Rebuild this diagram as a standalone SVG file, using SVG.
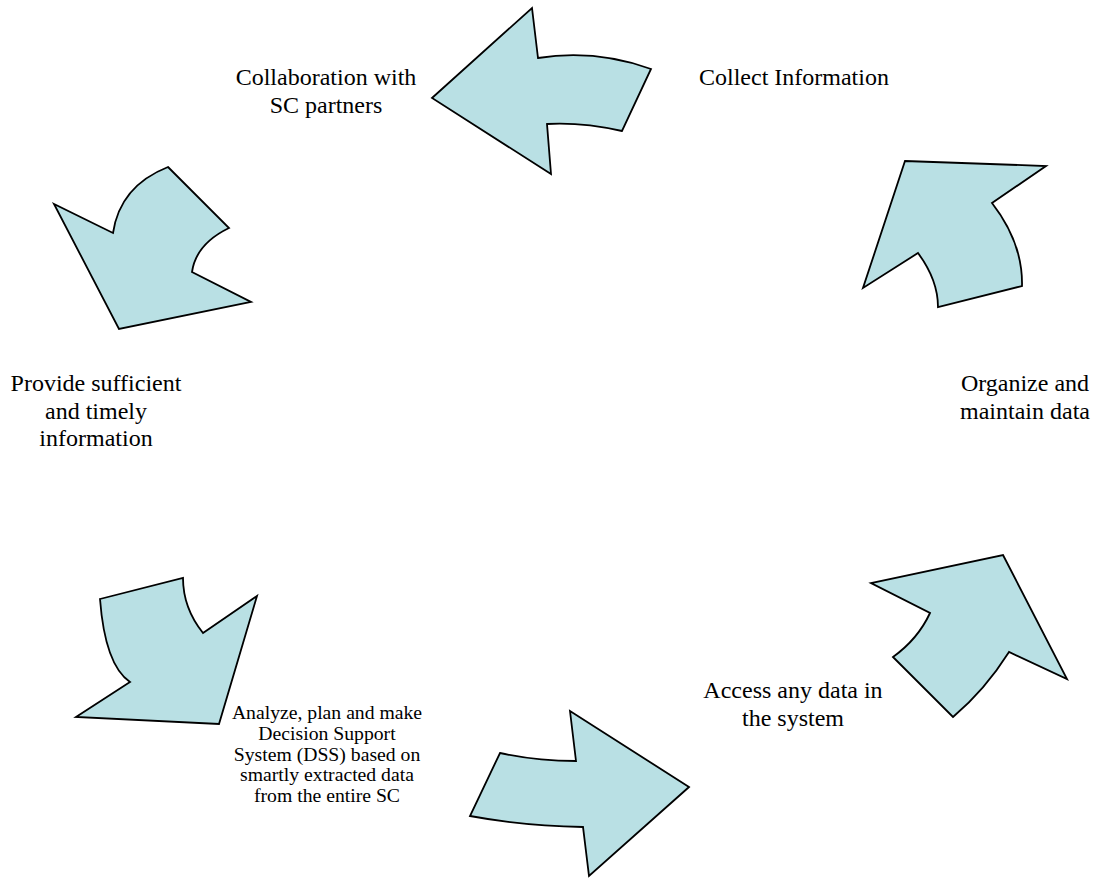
<svg xmlns="http://www.w3.org/2000/svg" width="1096" height="878" viewBox="0 0 1096 878">
<style>
.arr{fill:#B9E0E4;stroke:#000;stroke-width:1.8;stroke-linejoin:miter}
.lbl{font-family:"Liberation Serif","Times New Roman",serif;font-size:24px;fill:#000;text-anchor:middle}
.sm{font-family:"Liberation Serif","Times New Roman",serif;font-size:19.7px;fill:#000;text-anchor:middle}
</style>
<rect width="1096" height="878" fill="#fff"/>
<g id="connectors">
<path id="arrow-top" class="arr" d="M432,98 L532,8 L538,58 Q595,49 651,69 L622,131 Q582,122 547,124 L551,174 Z"/>
<path id="arrow-upper-right" class="arr" d="M905,161 L1046,166 L992,203 Q1023,243 1022,286 L938,307 Q938,280 918,253 L863,288 Z"/>
<path id="arrow-lower-right" class="arr" d="M1003,555 L1067,679 L1009,652 Q985,690 953,717 L893,657 Q918,639 930,613 L871,583 Z"/>
<path id="arrow-bottom" class="arr" d="M689,787 L570,711 L576,761 Q536,761 500,753 L470,816 Q524,826 583,827 L589,876 Z"/>
<path id="arrow-lower-left" class="arr" d="M100,599 L183,578 Q183,608 203,633 L257,596 L219,724 L76,717 L130,682 Q105,665 100,599 Z"/>
<path id="arrow-upper-left" class="arr" d="M168,167 L229,228 Q196,244 192,272 L251,302 L119,329 L54,204 L113,233 Q120,186 168,167 Z"/>
</g>
<g id="node-collaboration">
<text class="lbl" x="326" y="85">Collaboration with</text>
<text class="lbl" x="326" y="113">SC partners</text>
</g>
<g id="node-collect">
<text class="lbl" x="699" y="85" style="text-anchor:start">Collect Information</text>
</g>
<g id="node-provide">
<text class="lbl" x="96" y="391">Provide sufficient</text>
<text class="lbl" x="96" y="419">and timely</text>
<text class="lbl" x="96" y="446">information</text>
</g>
<g id="node-organize">
<text class="lbl" x="1025" y="391">Organize and</text>
<text class="lbl" x="1025" y="419">maintain data</text>
</g>
<g id="node-access">
<text class="lbl" x="793" y="698">Access any data in</text>
<text class="lbl" x="793" y="726">the system</text>
</g>
<g id="node-analyze">
<text class="sm" x="327" y="719">Analyze, plan and make</text>
<text class="sm" x="327" y="740">Decision Support</text>
<text class="sm" x="327" y="761">System (DSS) based on</text>
<text class="sm" x="327" y="781">smartly extracted data</text>
<text class="sm" x="327" y="802">from the entire SC</text>
</g>
</svg>
